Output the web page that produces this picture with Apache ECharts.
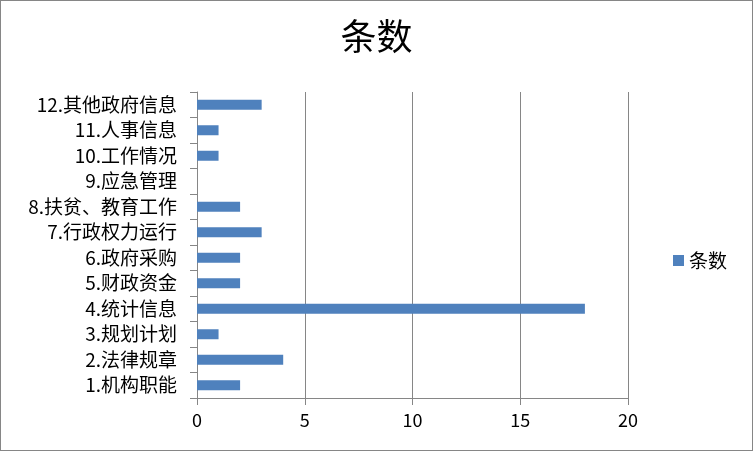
<!DOCTYPE html>
<html>
<head>
<meta charset="utf-8">
<script src="https://cdn.jsdelivr.net/npm/echarts@6/dist/echarts.min.js"></script>
<style>
html, body { margin: 0; padding: 0; background: #fff; }
#chart { width: 751px; height: 449px; border: 1px solid #868686; }
</style>
</head>
<body>
<div id="chart"></div>
<script>
var categories = ['1.机构职能', '2.法律规章', '3.规划计划', '4.统计信息', '5.财政资金', '6.政府采购',
    '7.行政权力运行', '8.扶贫、教育工作', '9.应急管理', '10.工作情况', '11.人事信息', '12.其他政府信息'];
var counts = [2, 4, 1, 18, 2, 2, 3, 2, 0, 1, 1, 3];
var seriesName = '条数';

var chart = echarts.init(document.getElementById('chart'));

var font = '"Noto Sans CJK SC", "Microsoft YaHei", sans-serif';

var option = {
    animation: false,
    title: {
        text: seriesName,
        left: 'center',
        top: 12,
        textStyle: {
            color: '#000',
            fontSize: 36,
            fontWeight: 'normal',
            fontFamily: font
        }
    },
    legend: {
        right: 20,
        top: 245,
        orient: 'vertical',
        icon: 'rect',
        itemWidth: 11,
        itemHeight: 11,
        itemGap: 6,
        textStyle: {
            color: '#000',
            fontSize: 19,
            fontFamily: font
        },
        data: [seriesName]
    },
    grid: {
        left: 196,
        right: 124,
        top: 91,
        bottom: 52
    },
    xAxis: {
        type: 'value',
        min: 0,
        max: 20,
        interval: 5,
        axisLine: { show: true, lineStyle: { color: '#868686' } },
        axisTick: { show: true, length: 7, lineStyle: { color: '#868686' } },
        axisLabel: { color: '#000', fontSize: 18, margin: 13, fontFamily: font },
        splitLine: { show: true, lineStyle: { color: '#868686' } }
    },
    yAxis: {
        type: 'category',
        data: categories,
        axisLine: { show: true, lineStyle: { color: '#868686' } },
        axisTick: { show: true, length: 7, lineStyle: { color: '#868686' } },
        axisLabel: { color: '#000', fontSize: 19, margin: 20, fontFamily: font, interval: 0 }
    },
    series: [{
        name: seriesName,
        type: 'bar',
        data: counts,
        barWidth: 10,
        itemStyle: { color: '#4F81BD' }
    }]
};

chart.setOption(option);
</script>
</body>
</html>
